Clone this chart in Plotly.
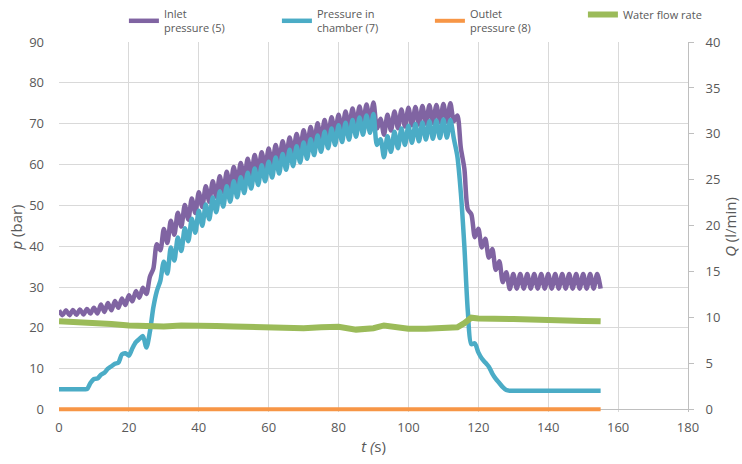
import plotly.graph_objects as go

# ---------------- data ----------------
t = list(range(0, 156))

inlet_pressure = [
    24.3, 23.1, 24.3, 23.1, 24.4, 23.2, 24.5, 23.3, 24.6, 23.5,
    24.9, 23.5, 25.7, 23.9, 26.1, 24.3, 26.6, 24.9, 27.2, 25.6,
    28.0, 26.5, 29.0, 27.4, 29.8, 28.3, 32.5, 34.5, 40.5, 39.0,
    44.2, 40.8, 46.2, 42.8, 48.2, 44.8, 50.1, 46.5, 51.7, 48.1,
    53.2, 49.6, 54.7, 50.9, 55.9, 52.1, 57.1, 53.3, 58.2, 54.4,
    59.4, 55.5, 60.4, 56.5, 61.4, 57.5, 62.3, 58.3, 63.0, 59.1,
    63.9, 59.9, 64.8, 60.9, 65.7, 61.8, 66.6, 62.7, 67.5, 63.6,
    68.4, 64.4, 69.2, 65.2, 70.1, 66.1, 70.9, 66.8, 71.6, 67.5,
    72.2, 68.2, 73.0, 68.9, 73.7, 69.6, 74.2, 70.1, 74.7, 70.6,
    75.2, 68.8, 71.2, 67.3, 72.2, 68.3, 73.0, 68.9, 73.5, 69.3,
    73.9, 69.6, 74.1, 69.8, 74.3, 70.0, 74.5, 70.2, 74.6, 70.3,
    74.8, 70.5, 75.0, 70.6, 72.0, 64.0, 59.0, 49.0, 47.8, 42.2,
    44.3, 39.7, 41.8, 37.2, 39.3, 34.2, 36.3, 31.2, 33.6, 29.5,
    33.2, 29.6, 33.2, 29.6, 33.2, 29.6, 33.2, 29.6, 33.2, 29.6,
    33.2, 29.6, 33.2, 29.6, 33.2, 29.6, 33.2, 29.6, 33.2, 29.6,
    33.2, 29.6, 33.2, 29.6, 33.2, 29.6,
]

chamber_pressure = [
    5.0, 5.0, 5.0, 5.0, 5.0, 5.0, 5.0, 5.0, 5.0, 6.5,
    7.5, 7.6, 8.5, 9.0, 10.0, 10.6, 11.2, 11.5, 13.5, 13.8,
    13.2, 15.0, 16.5, 17.3, 18.0, 15.2, 19.0, 25.0, 29.0, 31.5,
    36.2, 33.3, 39.7, 36.5, 42.1, 38.8, 44.4, 41.2, 46.7, 43.3,
    48.7, 45.0, 50.2, 46.6, 51.9, 48.3, 53.4, 49.7, 54.7, 50.9,
    55.9, 52.0, 56.9, 53.0, 58.0, 54.1, 59.0, 55.0, 59.8, 55.9,
    60.7, 56.8, 61.7, 57.8, 62.6, 58.7, 63.6, 59.6, 64.5, 60.5,
    65.4, 61.4, 66.2, 62.3, 67.1, 63.1, 68.0, 64.0, 68.8, 64.8,
    69.6, 65.5, 70.2, 66.1, 70.9, 66.8, 71.5, 67.3, 72.0, 67.8,
    72.4, 64.8, 66.2, 61.8, 66.9, 63.1, 68.0, 64.0, 68.8, 64.8,
    69.5, 65.3, 69.9, 65.7, 70.3, 66.1, 70.6, 66.3, 70.8, 66.5,
    71.0, 66.6, 70.9, 66.3, 62.0, 53.0, 40.0, 24.0, 16.0, 16.2,
    14.0, 12.5, 11.5, 10.5, 8.8, 7.5, 6.5, 5.5, 4.8, 4.6,
    4.6, 4.6, 4.6, 4.6, 4.6, 4.6, 4.6, 4.6, 4.6, 4.6,
    4.6, 4.6, 4.6, 4.6, 4.6, 4.6, 4.6, 4.6, 4.6, 4.6,
    4.6, 4.6, 4.6, 4.6, 4.6, 4.6,
]

outlet_t = [0, 10, 20, 30, 40, 50, 60, 70, 80, 90, 100, 110, 120, 130, 140, 150, 155]
outlet_pressure = [0.1, 0.1, 0.1, 0.15, 0.2, 0.2, 0.2, 0.2, 0.2, 0.2, 0.2, 0.2, 0.15, 0.1, 0.1, 0.1, 0.1]

flow_t = [0, 5, 10, 15, 20, 25, 30, 35, 40, 45, 50, 55, 60, 65, 70, 75, 80, 85, 90,
          93, 96, 100, 105, 110, 114, 116, 118, 120, 125, 130, 135, 140, 145, 150, 155]
flow_rate = [9.6, 9.55, 9.45, 9.3, 9.15, 9.05, 9.05, 9.15, 9.2, 9.1, 9.05, 9.0, 8.9, 8.8, 8.85,
             8.95, 9.0, 8.7, 8.85, 9.15, 9.0, 8.8, 8.8, 8.8, 8.95, 9.4, 10.0, 9.9, 9.95, 9.85,
             9.8, 9.7, 9.7, 9.65, 9.6]

x_ticks = [0, 20, 40, 60, 80, 100, 120, 140, 160, 180]
p_ticks = [0, 10, 20, 30, 40, 50, 60, 70, 80, 90]
q_ticks = [0, 5, 10, 15, 20, 25, 30, 35, 40]

names = ["Inlet<br>pressure (5)", "Pressure in<br>chamber (7)", "Outlet<br>pressure (8)", "Water flow rate"]
colors = ["#8064A2", "#4BACC6", "#F79646", "#9BBB59"]

# ---------------- figure ----------------
FONT = "Open Sans"
TXT = "#595959"
GRID = "#D9D9D9"

fig = go.Figure()
fig.add_trace(go.Scatter(x=t, y=inlet_pressure, mode="lines", name=names[0],
                         line=dict(color=colors[0], width=4.5, shape="spline", smoothing=0.8)))
fig.add_trace(go.Scatter(x=t, y=chamber_pressure, mode="lines", name=names[1],
                         line=dict(color=colors[1], width=4.5, shape="spline", smoothing=0.8)))
fig.add_trace(go.Scatter(x=outlet_t, y=outlet_pressure, mode="lines", name=names[2],
                         line=dict(color=colors[2], width=4)))
fig.add_trace(go.Scatter(x=flow_t, y=flow_rate, mode="lines", name=names[3], yaxis="y2",
                         line=dict(color=colors[3], width=6)))

fig.update_layout(
    width=742, height=464,
    margin=dict(l=59, r=54, t=42, b=52, autoexpand=False),
    paper_bgcolor="white", plot_bgcolor="white",
    font=dict(family=FONT, size=13, color=TXT),
    showlegend=True,
    legend=dict(orientation="h", x=0.167, xanchor="left", y=1.0, yanchor="top",
                yref="container", xref="container", font=dict(size=11, color=TXT),
                entrywidth=108, entrywidthmode="pixels", traceorder="normal",
                itemwidth=30, bgcolor="rgba(0,0,0,0)"),
    xaxis=dict(range=[0, 180], tickvals=x_ticks, showgrid=True, gridcolor=GRID, gridwidth=1,
               zeroline=False, showline=False, ticks="", automargin=False, ticklabelstandoff=6,
               title=dict(text="<i>t</i> <i>(</i>s)", font=dict(size=15, color=TXT), standoff=6)),
    yaxis=dict(range=[-0.6, 90], tickvals=p_ticks, showgrid=True, gridcolor=GRID, gridwidth=1,
               zeroline=True, zerolinecolor="#BFBFBF", zerolinewidth=1, showline=False, ticks="",
               ticklabelstandoff=14, automargin=False,
               title=dict(text="<i>p</i> (bar)", font=dict(size=15, color=TXT), standoff=2)),
    yaxis2=dict(range=[-0.6 * 40 / 90, 40], tickvals=q_ticks, overlaying="y", side="right",
                showgrid=False, zeroline=False, showline=True, linecolor="#BFBFBF", linewidth=1,
                ticks="outside", ticklen=5, tickcolor="#BFBFBF", ticklabelstandoff=9,
                automargin=False,
                title=dict(text="<i>Q</i> (l/min)", font=dict(size=15, color=TXT), standoff=0)),
)

fig.write_html("out.html", config={"displayModeBar": False},
               post_script="document.body.style.margin='0';")
